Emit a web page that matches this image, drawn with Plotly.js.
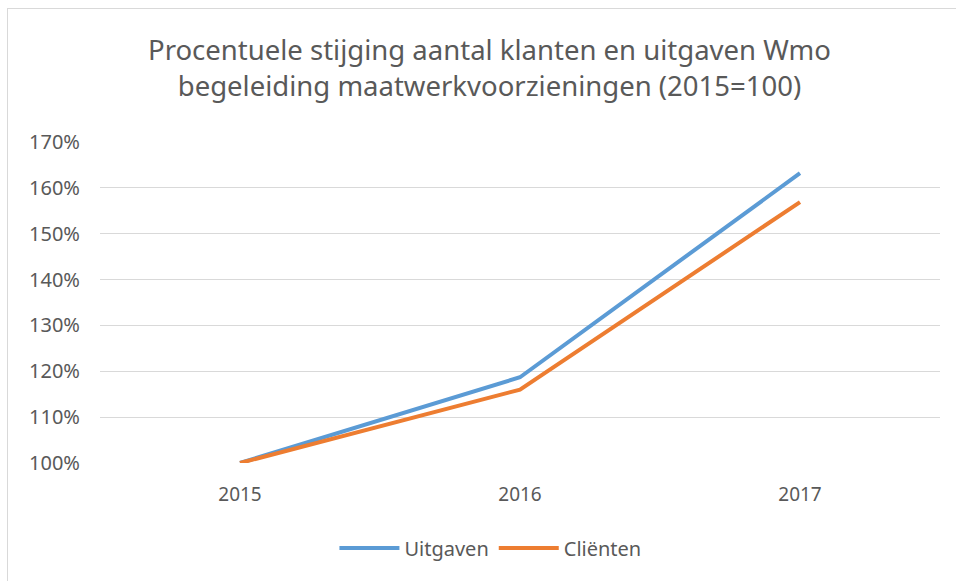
<!DOCTYPE html>
<html><head><meta charset="utf-8">
<script src="https://cdn.plot.ly/plotly-3.0.1.min.js"></script>
<style>
html,body{margin:0;padding:0;background:#fff;overflow:hidden;}
#chart{width:956px;height:581px;}
#frame{position:absolute;left:7px;top:8px;width:1200px;height:1200px;border:1.5px solid #d9d9d9;pointer-events:none;}
</style></head>
<body>
<div id="chart"></div>
<div id="frame"></div>
<script>
const years = ['2015', '2016', '2017'];
const uitgaven = [1.000, 1.187, 1.632];
const clienten = [1.000, 1.160, 1.569];
const yTicks = [1.0, 1.1, 1.2, 1.3, 1.4, 1.5, 1.6, 1.7];
const yTickLabels = ['100%', '110%', '120%', '130%', '140%', '150%', '160%', '170%'];

const font = '"Noto Sans", "Open Sans", sans-serif';
const traces = [
  {x: years, y: uitgaven, name: 'Uitgaven', type: 'scatter', mode: 'lines',
   line: {color: '#5B9BD5', width: 4}},
  {x: years, y: clienten, name: 'Cliënten', type: 'scatter', mode: 'lines',
   line: {color: '#ED7D31', width: 4}}
];
const layout = {
  width: 956, height: 581,
  margin: {l: 100, r: 16, t: 142, b: 118},
  paper_bgcolor: '#fff', plot_bgcolor: '#fff',
  font: {family: font, color: '#595959', size: 19},
  title: {
    text: 'Procentuele stijging aantal klanten en uitgaven Wmo<br>begeleiding maatwerkvoorzieningen (2015=100)',
    font: {family: font, size: 27.5, color: '#595959'},
    xref: 'container', x: 0.512, xanchor: 'center',
    yref: 'container', y: 0.897, yanchor: 'middle'
  },
  xaxis: {
    type: 'category', range: [-0.5, 2.5], showgrid: false, zeroline: false,
    showline: false, ticks: '', ticklabelstandoff: 18,
    tickfont: {family: font, size: 19, color: '#595959'}
  },
  yaxis: {
    range: [1.0, 1.7], tickvals: yTicks, ticktext: yTickLabels,
    showgrid: true, gridcolor: '#d9d9d9', gridwidth: 1, zeroline: false,
    showline: false, ticks: '', ticklabelstandoff: 19,
    tickfont: {family: font, size: 20, color: '#595959'}
  },
  showlegend: true,
  legend: {
    orientation: 'h', xref: 'container', yref: 'container',
    x: 0.513, xanchor: 'center', y: 0.057, yanchor: 'middle',
    font: {family: font, size: 20, color: '#595959'},
    itemwidth: 60, tracegroupgap: 0
  }
};
Plotly.newPlot('chart', traces, layout, {displayModeBar: false, staticPlot: true});
</script>
</body></html>
